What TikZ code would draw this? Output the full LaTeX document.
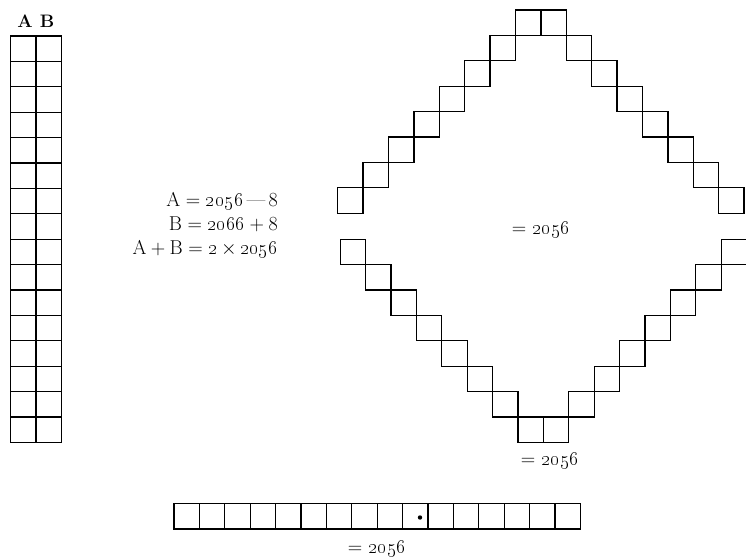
\documentclass[tikz,border=0pt]{standalone}
\begin{document}
\begin{tikzpicture}[x=1pt,y=-1pt,
  cell/.style={draw=black,line width=1.3pt},
  lbl/.style={inner sep=0pt,font=\fontsize{17.28}{20}\selectfont,scale=1.16,transform shape}]
\useasboundingbox (0,0) rectangle (746,557);
\def\s{25.4}
% left column
\foreach \i in {0,...,15}{
  \foreach \j in {0,1}{
    \draw[cell] ({10.5+\j*\s},{36+\i*\s}) rectangle ++(\s,\s);
  }
}
\node[lbl,anchor=base,scale=0.9] (labA) at (25,27) {\textbf{A}};
\node[lbl,anchor=base,scale=0.9] (labB) at (47,27) {\textbf{B}};
% equations
\node[lbl,anchor=base east] (eq1) at (278,206) {A${}={}$\oldstylenums{2056}\,---\,8};
\node[lbl,anchor=base east] (eq2) at (278,230) {B${}={}$\oldstylenums{2066}${}+{}$8};
\node[lbl,anchor=base east] (eq3) at (278,254) {A${}+{}$B${}={}$\oldstylenums{2}$\,\times\,$\oldstylenums{2056}};
% upper half of diamond
\draw[cell] (515.5,10) rectangle ++(\s,\s);
\draw[cell] (540.9,10) rectangle ++(\s,\s);
\foreach \k in {1,...,7}{
  \draw[cell] ({515.5-\k*\s},{10+\k*\s}) rectangle ++(\s,\s);
  \draw[cell] ({540.9+\k*\s},{10+\k*\s}) rectangle ++(\s,\s);
}
\node[lbl,anchor=base] (mid) at (541,234) {$=$ \oldstylenums{2056}};
% lower half of diamond
\draw[cell] (518,417) rectangle ++(\s,\s);
\draw[cell] (543.4,417) rectangle ++(\s,\s);
\foreach \k in {1,...,7}{
  \draw[cell] ({518-\k*\s},{417-\k*\s}) rectangle ++(\s,\s);
  \draw[cell] ({543.4+\k*\s},{417-\k*\s}) rectangle ++(\s,\s);
}
\node[lbl,anchor=base] (low) at (550,465) {$=$ \oldstylenums{2056}};
% bottom row
\foreach \i in {0,...,15}{
  \draw[cell] ({174+\i*\s},503.5) rectangle ++(\s,\s);
}
\fill (420,517.5) circle (2.2);
\node[lbl,anchor=base] (bot) at (377,553) {$=$ \oldstylenums{2056}};
\end{tikzpicture}
\end{document}
